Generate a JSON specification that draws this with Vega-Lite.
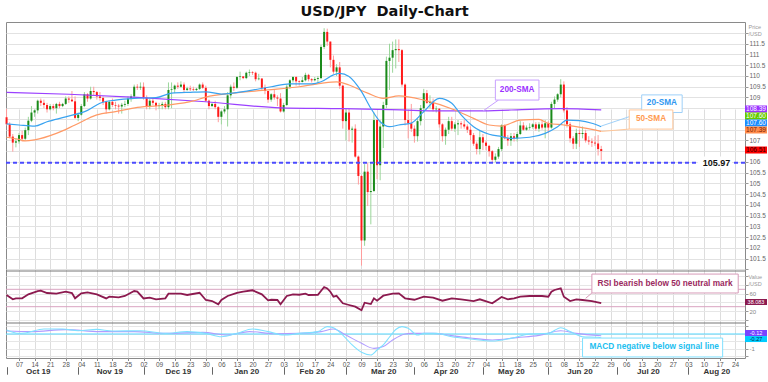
{
"$schema":"https://vega.github.io/schema/vega-lite/v6.json",
"width":739,"height":336,
"autosize":{"type":"none"},
"padding":{"left":6,"top":22,"right":23,"bottom":24},
"background":"white",
"title":{"text":"USD/JPY\u00a0 Daily-Chart","font":"DejaVu Sans","fontSize":14.5,"fontWeight":"bold","color":"#111111","anchor":"middle","dx":9,"offset":3},
"config":{"view":{"stroke":"#8a8a8a","strokeWidth":1},"axis":{"labelFont":"Liberation Sans","titleFont":"Liberation Sans","labelOverlap":false,"labelBound":false,"labelSeparation":0},"text":{"font":"Liberation Sans"}},
"datasets":{
"ohlc":[
{"d":"2019-10-01","o":108.08,"h":108.47,"l":107.7,"c":107.75},
{"d":"2019-10-02","o":107.75,"h":107.85,"l":107.1,"c":107.18},
{"d":"2019-10-03","o":107.18,"h":107.3,"l":106.48,"c":106.9},
{"d":"2019-10-04","o":106.9,"h":107.1,"l":106.68,"c":106.96},
{"d":"2019-10-07","o":106.96,"h":107.35,"l":106.85,"c":107.25},
{"d":"2019-10-08","o":107.25,"h":107.45,"l":106.95,"c":107.08},
{"d":"2019-10-09","o":107.08,"h":107.6,"l":107.0,"c":107.48},
{"d":"2019-10-10","o":107.48,"h":108.1,"l":107.25,"c":107.92},
{"d":"2019-10-11","o":107.92,"h":108.6,"l":107.85,"c":108.3},
{"d":"2019-10-14","o":108.3,"h":108.45,"l":108.1,"c":108.4},
{"d":"2019-10-15","o":108.4,"h":108.9,"l":108.25,"c":108.85},
{"d":"2019-10-16","o":108.85,"h":108.95,"l":108.6,"c":108.75},
{"d":"2019-10-17","o":108.75,"h":108.9,"l":108.5,"c":108.65},
{"d":"2019-10-18","o":108.65,"h":108.75,"l":108.3,"c":108.45},
{"d":"2019-10-21","o":108.45,"h":108.7,"l":108.4,"c":108.6},
{"d":"2019-10-22","o":108.6,"h":108.7,"l":108.4,"c":108.5},
{"d":"2019-10-23","o":108.5,"h":108.75,"l":108.25,"c":108.7},
{"d":"2019-10-24","o":108.7,"h":108.8,"l":108.5,"c":108.6},
{"d":"2019-10-25","o":108.6,"h":108.75,"l":108.55,"c":108.7},
{"d":"2019-10-28","o":108.7,"h":109.05,"l":108.65,"c":108.95},
{"d":"2019-10-29","o":108.95,"h":109.05,"l":108.75,"c":108.9},
{"d":"2019-10-30","o":108.9,"h":109.3,"l":108.8,"c":108.82},
{"d":"2019-10-31","o":108.82,"h":109.05,"l":108.0,"c":108.05},
{"d":"2019-11-01","o":108.05,"h":108.3,"l":107.9,"c":108.2},
{"d":"2019-11-04","o":108.2,"h":108.7,"l":108.15,"c":108.6},
{"d":"2019-11-05","o":108.6,"h":109.25,"l":108.55,"c":109.15},
{"d":"2019-11-06","o":109.15,"h":109.2,"l":108.8,"c":108.95},
{"d":"2019-11-07","o":108.95,"h":109.5,"l":108.9,"c":109.3},
{"d":"2019-11-08","o":109.3,"h":109.5,"l":109.1,"c":109.25},
{"d":"2019-11-11","o":109.25,"h":109.3,"l":108.9,"c":109.05},
{"d":"2019-11-12","o":109.05,"h":109.25,"l":108.85,"c":108.98},
{"d":"2019-11-13","o":108.98,"h":109.05,"l":108.65,"c":108.8},
{"d":"2019-11-14","o":108.8,"h":108.85,"l":108.25,"c":108.45},
{"d":"2019-11-15","o":108.45,"h":108.85,"l":108.4,"c":108.8},
{"d":"2019-11-18","o":108.8,"h":108.95,"l":108.55,"c":108.65},
{"d":"2019-11-19","o":108.65,"h":108.8,"l":108.45,"c":108.62},
{"d":"2019-11-20","o":108.62,"h":108.7,"l":108.25,"c":108.58},
{"d":"2019-11-21","o":108.58,"h":108.75,"l":108.25,"c":108.66},
{"d":"2019-11-22","o":108.66,"h":108.85,"l":108.55,"c":108.7},
{"d":"2019-11-25","o":108.7,"h":109.05,"l":108.6,"c":108.95},
{"d":"2019-11-26","o":108.95,"h":109.15,"l":108.8,"c":109.05},
{"d":"2019-11-27","o":109.05,"h":109.6,"l":108.95,"c":109.5},
{"d":"2019-11-28","o":109.5,"h":109.62,"l":109.35,"c":109.46},
{"d":"2019-11-29","o":109.46,"h":109.7,"l":109.35,"c":109.5},
{"d":"2019-12-02","o":109.5,"h":109.7,"l":108.9,"c":109.0},
{"d":"2019-12-03","o":109.0,"h":109.1,"l":108.45,"c":108.6},
{"d":"2019-12-04","o":108.6,"h":108.95,"l":108.45,"c":108.85},
{"d":"2019-12-05","o":108.85,"h":108.95,"l":108.65,"c":108.75},
{"d":"2019-12-06","o":108.75,"h":108.8,"l":108.4,"c":108.6},
{"d":"2019-12-09","o":108.6,"h":108.75,"l":108.45,"c":108.63},
{"d":"2019-12-10","o":108.63,"h":108.8,"l":108.45,"c":108.7},
{"d":"2019-12-11","o":108.7,"h":108.8,"l":108.45,"c":108.55},
{"d":"2019-12-12","o":108.55,"h":109.7,"l":108.45,"c":109.35},
{"d":"2019-12-13","o":109.35,"h":109.7,"l":108.5,"c":109.38},
{"d":"2019-12-16","o":109.38,"h":109.6,"l":109.2,"c":109.55},
{"d":"2019-12-17","o":109.55,"h":109.7,"l":109.4,"c":109.5},
{"d":"2019-12-18","o":109.5,"h":109.75,"l":109.45,"c":109.6},
{"d":"2019-12-19","o":109.6,"h":109.7,"l":109.25,"c":109.35},
{"d":"2019-12-20","o":109.35,"h":109.5,"l":109.3,"c":109.42},
{"d":"2019-12-23","o":109.42,"h":109.55,"l":109.3,"c":109.38},
{"d":"2019-12-24","o":109.38,"h":109.5,"l":109.3,"c":109.35},
{"d":"2019-12-25","o":109.35,"h":109.45,"l":109.3,"c":109.4},
{"d":"2019-12-26","o":109.4,"h":109.65,"l":109.35,"c":109.6},
{"d":"2019-12-27","o":109.6,"h":109.7,"l":109.4,"c":109.45},
{"d":"2019-12-30","o":109.45,"h":109.55,"l":108.8,"c":108.85},
{"d":"2019-12-31","o":108.85,"h":108.9,"l":108.45,"c":108.6},
{"d":"2020-01-01","o":108.6,"h":108.75,"l":108.55,"c":108.7},
{"d":"2020-01-02","o":108.7,"h":108.85,"l":108.45,"c":108.55},
{"d":"2020-01-03","o":108.55,"h":108.6,"l":107.85,"c":108.1},
{"d":"2020-01-06","o":108.1,"h":108.4,"l":107.75,"c":108.35},
{"d":"2020-01-07","o":108.35,"h":108.6,"l":108.25,"c":108.45},
{"d":"2020-01-08","o":108.45,"h":109.25,"l":107.65,"c":109.1},
{"d":"2020-01-09","o":109.1,"h":109.6,"l":108.95,"c":109.5},
{"d":"2020-01-10","o":109.5,"h":109.7,"l":109.3,"c":109.45},
{"d":"2020-01-13","o":109.45,"h":110.0,"l":109.4,"c":109.95},
{"d":"2020-01-14","o":109.95,"h":110.2,"l":109.8,"c":109.98},
{"d":"2020-01-15","o":109.98,"h":110.0,"l":109.85,"c":109.9},
{"d":"2020-01-16","o":109.9,"h":110.2,"l":109.85,"c":110.15},
{"d":"2020-01-17","o":110.15,"h":110.3,"l":110.0,"c":110.18},
{"d":"2020-01-20","o":110.18,"h":110.22,"l":110.05,"c":110.15},
{"d":"2020-01-21","o":110.15,"h":110.2,"l":109.75,"c":109.85},
{"d":"2020-01-22","o":109.85,"h":110.1,"l":109.8,"c":109.88},
{"d":"2020-01-23","o":109.88,"h":109.9,"l":109.35,"c":109.45},
{"d":"2020-01-24","o":109.45,"h":109.6,"l":109.15,"c":109.3},
{"d":"2020-01-27","o":109.3,"h":109.3,"l":108.75,"c":108.9},
{"d":"2020-01-28","o":108.9,"h":109.2,"l":108.8,"c":109.15},
{"d":"2020-01-29","o":109.15,"h":109.35,"l":108.9,"c":109.0},
{"d":"2020-01-30","o":109.0,"h":109.1,"l":108.6,"c":108.95},
{"d":"2020-01-31","o":108.95,"h":109.2,"l":108.3,"c":108.35},
{"d":"2020-02-03","o":108.35,"h":108.75,"l":108.3,"c":108.65},
{"d":"2020-02-04","o":108.65,"h":109.6,"l":108.6,"c":109.5},
{"d":"2020-02-05","o":109.5,"h":109.85,"l":109.4,"c":109.8},
{"d":"2020-02-06","o":109.8,"h":110.0,"l":109.7,"c":109.95},
{"d":"2020-02-07","o":109.95,"h":110.0,"l":109.55,"c":109.75},
{"d":"2020-02-10","o":109.75,"h":109.8,"l":109.55,"c":109.72},
{"d":"2020-02-11","o":109.72,"h":109.95,"l":109.7,"c":109.8},
{"d":"2020-02-12","o":109.8,"h":110.15,"l":109.75,"c":110.05},
{"d":"2020-02-13","o":110.05,"h":110.1,"l":109.75,"c":109.85},
{"d":"2020-02-14","o":109.85,"h":109.9,"l":109.7,"c":109.8},
{"d":"2020-02-17","o":109.8,"h":109.95,"l":109.75,"c":109.86},
{"d":"2020-02-18","o":109.86,"h":110.0,"l":109.65,"c":109.9},
{"d":"2020-02-19","o":109.9,"h":111.45,"l":109.85,"c":111.35},
{"d":"2020-02-20","o":111.35,"h":112.22,"l":111.25,"c":112.05},
{"d":"2020-02-21","o":112.05,"h":112.2,"l":111.4,"c":111.6},
{"d":"2020-02-24","o":111.6,"h":111.6,"l":110.4,"c":110.75},
{"d":"2020-02-25","o":110.75,"h":110.95,"l":110.1,"c":110.2},
{"d":"2020-02-26","o":110.2,"h":110.55,"l":110.0,"c":110.4},
{"d":"2020-02-27","o":110.4,"h":110.65,"l":109.4,"c":109.55},
{"d":"2020-02-28","o":109.55,"h":109.6,"l":107.55,"c":107.9},
{"d":"2020-03-02","o":107.9,"h":108.5,"l":107.0,"c":108.3},
{"d":"2020-03-03","o":108.3,"h":108.5,"l":106.95,"c":107.5},
{"d":"2020-03-04","o":107.5,"h":107.65,"l":106.9,"c":107.55},
{"d":"2020-03-05","o":107.55,"h":107.75,"l":106.2,"c":106.25},
{"d":"2020-03-06","o":106.25,"h":106.3,"l":104.95,"c":105.35},
{"d":"2020-03-09","o":105.35,"h":105.4,"l":101.18,"c":102.35},
{"d":"2020-03-10","o":102.35,"h":105.9,"l":102.1,"c":105.55},
{"d":"2020-03-11","o":105.55,"h":105.95,"l":103.95,"c":104.6},
{"d":"2020-03-12","o":104.6,"h":105.95,"l":103.1,"c":104.65},
{"d":"2020-03-13","o":104.65,"h":108.3,"l":104.6,"c":107.95},
{"d":"2020-03-16","o":107.95,"h":108.0,"l":105.2,"c":105.85},
{"d":"2020-03-17","o":105.85,"h":107.95,"l":105.15,"c":107.65},
{"d":"2020-03-18","o":107.65,"h":108.8,"l":106.65,"c":108.65},
{"d":"2020-03-19","o":108.65,"h":110.9,"l":108.5,"c":110.7},
{"d":"2020-03-20","o":110.7,"h":111.5,"l":109.35,"c":110.85},
{"d":"2020-03-23","o":110.85,"h":111.6,"l":110.15,"c":111.2},
{"d":"2020-03-24","o":111.2,"h":111.7,"l":110.35,"c":111.25},
{"d":"2020-03-25","o":111.25,"h":111.7,"l":110.65,"c":111.2},
{"d":"2020-03-26","o":111.2,"h":111.25,"l":109.5,"c":109.6},
{"d":"2020-03-27","o":109.6,"h":109.65,"l":107.7,"c":107.95},
{"d":"2020-03-30","o":107.95,"h":108.4,"l":107.1,"c":107.8},
{"d":"2020-03-31","o":107.8,"h":108.7,"l":107.4,"c":107.55},
{"d":"2020-04-01","o":107.55,"h":107.7,"l":106.9,"c":107.2},
{"d":"2020-04-02","o":107.2,"h":108.0,"l":106.95,"c":107.9},
{"d":"2020-04-03","o":107.9,"h":108.65,"l":107.7,"c":108.5},
{"d":"2020-04-06","o":108.5,"h":109.4,"l":108.3,"c":109.2},
{"d":"2020-04-07","o":109.2,"h":109.35,"l":108.7,"c":108.75},
{"d":"2020-04-08","o":108.75,"h":109.1,"l":108.5,"c":108.8},
{"d":"2020-04-09","o":108.8,"h":108.95,"l":108.35,"c":108.45},
{"d":"2020-04-10","o":108.45,"h":108.6,"l":108.3,"c":108.48},
{"d":"2020-04-13","o":108.48,"h":108.5,"l":107.6,"c":107.75},
{"d":"2020-04-14","o":107.75,"h":107.8,"l":106.95,"c":107.2},
{"d":"2020-04-15","o":107.2,"h":107.6,"l":106.8,"c":107.5},
{"d":"2020-04-16","o":107.5,"h":108.1,"l":107.3,"c":107.9},
{"d":"2020-04-17","o":107.9,"h":108.1,"l":107.45,"c":107.55},
{"d":"2020-04-20","o":107.55,"h":107.85,"l":107.4,"c":107.75},
{"d":"2020-04-21","o":107.75,"h":107.95,"l":107.25,"c":107.8},
{"d":"2020-04-22","o":107.8,"h":107.9,"l":107.55,"c":107.75},
{"d":"2020-04-23","o":107.75,"h":107.95,"l":107.55,"c":107.65},
{"d":"2020-04-24","o":107.65,"h":107.75,"l":107.35,"c":107.5},
{"d":"2020-04-27","o":107.5,"h":107.65,"l":107.0,"c":107.25},
{"d":"2020-04-28","o":107.25,"h":107.35,"l":106.75,"c":106.85},
{"d":"2020-04-29","o":106.85,"h":106.95,"l":106.35,"c":106.6},
{"d":"2020-04-30","o":106.6,"h":107.45,"l":106.35,"c":107.15},
{"d":"2020-05-01","o":107.15,"h":107.3,"l":106.55,"c":106.9},
{"d":"2020-05-04","o":106.9,"h":107.0,"l":106.55,"c":106.75},
{"d":"2020-05-05","o":106.75,"h":106.8,"l":106.25,"c":106.5},
{"d":"2020-05-06","o":106.5,"h":106.55,"l":105.98,"c":106.1},
{"d":"2020-05-07","o":106.1,"h":106.4,"l":105.99,"c":106.25},
{"d":"2020-05-08","o":106.25,"h":106.7,"l":106.15,"c":106.6},
{"d":"2020-05-11","o":106.6,"h":107.75,"l":106.5,"c":107.7},
{"d":"2020-05-12","o":107.7,"h":107.75,"l":107.05,"c":107.1},
{"d":"2020-05-13","o":107.1,"h":107.25,"l":106.75,"c":107.0},
{"d":"2020-05-14","o":107.0,"h":107.35,"l":106.75,"c":107.2},
{"d":"2020-05-15","o":107.2,"h":107.35,"l":106.95,"c":107.1},
{"d":"2020-05-18","o":107.1,"h":107.4,"l":106.95,"c":107.3},
{"d":"2020-05-19","o":107.3,"h":107.9,"l":107.25,"c":107.7},
{"d":"2020-05-20","o":107.7,"h":107.85,"l":107.45,"c":107.5},
{"d":"2020-05-21","o":107.5,"h":107.7,"l":107.45,"c":107.6},
{"d":"2020-05-22","o":107.6,"h":107.8,"l":107.5,"c":107.63},
{"d":"2020-05-25","o":107.63,"h":107.8,"l":107.55,"c":107.75},
{"d":"2020-05-26","o":107.75,"h":107.85,"l":107.45,"c":107.55},
{"d":"2020-05-27","o":107.55,"h":107.85,"l":107.4,"c":107.75},
{"d":"2020-05-28","o":107.75,"h":107.95,"l":107.5,"c":107.6},
{"d":"2020-05-29","o":107.6,"h":107.95,"l":107.1,"c":107.8},
{"d":"2020-06-01","o":107.8,"h":107.9,"l":107.35,"c":107.6},
{"d":"2020-06-02","o":107.6,"h":108.8,"l":107.55,"c":108.7},
{"d":"2020-06-03","o":108.7,"h":109.05,"l":108.5,"c":108.9},
{"d":"2020-06-04","o":108.9,"h":109.2,"l":108.8,"c":109.15},
{"d":"2020-06-05","o":109.15,"h":109.85,"l":109.0,"c":109.6},
{"d":"2020-06-08","o":109.6,"h":109.75,"l":108.3,"c":108.4},
{"d":"2020-06-09","o":108.4,"h":108.55,"l":107.6,"c":107.75},
{"d":"2020-06-10","o":107.75,"h":107.85,"l":106.9,"c":107.1},
{"d":"2020-06-11","o":107.1,"h":107.2,"l":106.6,"c":106.85},
{"d":"2020-06-12","o":106.85,"h":107.55,"l":106.6,"c":107.35},
{"d":"2020-06-15","o":107.35,"h":107.5,"l":106.7,"c":107.3},
{"d":"2020-06-16","o":107.3,"h":107.65,"l":107.1,"c":107.35},
{"d":"2020-06-17","o":107.35,"h":107.5,"l":106.9,"c":107.0},
{"d":"2020-06-18","o":107.0,"h":107.2,"l":106.8,"c":106.95},
{"d":"2020-06-19","o":106.95,"h":107.1,"l":106.7,"c":106.9},
{"d":"2020-06-22","o":106.9,"h":107.2,"l":106.75,"c":106.86},
{"d":"2020-06-23","o":106.86,"h":107.25,"l":106.3,"c":106.6},
{"d":"2020-06-24","o":106.6,"h":106.75,"l":106.08,"c":106.51}
],
"s20":[{"d":"2019-10-01","v":107.77},{"d":"2019-10-07","v":107.72},{"d":"2019-10-14","v":107.67},{"d":"2019-10-18","v":107.87},{"d":"2019-10-28","v":108.1},{"d":"2019-11-06","v":108.4},{"d":"2019-11-12","v":108.73},{"d":"2019-11-19","v":108.88},{"d":"2019-11-27","v":108.96},{"d":"2019-12-06","v":108.99},{"d":"2019-12-13","v":109.2},{"d":"2019-12-23","v":109.24},{"d":"2019-12-30","v":109.26},{"d":"2020-01-06","v":109.16},{"d":"2020-01-17","v":109.32},{"d":"2020-01-28","v":109.5},{"d":"2020-02-05","v":109.63},{"d":"2020-02-14","v":109.63},{"d":"2020-02-19","v":109.73},{"d":"2020-02-25","v":110.05},{"d":"2020-02-27","v":110.12},{"d":"2020-03-03","v":109.97},{"d":"2020-03-09","v":109.27},{"d":"2020-03-12","v":108.5},{"d":"2020-03-17","v":107.87},{"d":"2020-03-20","v":107.64},{"d":"2020-03-25","v":107.72},{"d":"2020-03-31","v":107.81},{"d":"2020-04-06","v":108.34},{"d":"2020-04-13","v":108.96},{"d":"2020-04-17","v":108.73},{"d":"2020-04-22","v":108.19},{"d":"2020-04-28","v":107.64},{"d":"2020-05-05","v":107.29},{"d":"2020-05-11","v":107.18},{"d":"2020-05-14","v":107.1},{"d":"2020-05-22","v":107.15},{"d":"2020-05-29","v":107.33},{"d":"2020-06-04","v":107.64},{"d":"2020-06-09","v":107.95},{"d":"2020-06-15","v":107.92},{"d":"2020-06-19","v":107.8},{"d":"2020-06-24","v":107.64}],
"s50":[{"d":"2019-10-01","v":107.15},{"d":"2019-10-07","v":107.05},{"d":"2019-10-09","v":106.98},{"d":"2019-10-14","v":107.03},{"d":"2019-10-23","v":107.33},{"d":"2019-10-31","v":107.72},{"d":"2019-11-11","v":108.19},{"d":"2019-11-19","v":108.34},{"d":"2019-11-28","v":108.54},{"d":"2019-12-12","v":108.65},{"d":"2019-12-24","v":108.84},{"d":"2019-12-30","v":109.02},{"d":"2020-01-10","v":109.2},{"d":"2020-01-27","v":109.35},{"d":"2020-02-10","v":109.5},{"d":"2020-02-19","v":109.66},{"d":"2020-02-26","v":109.73},{"d":"2020-03-03","v":109.58},{"d":"2020-03-11","v":109.2},{"d":"2020-03-18","v":108.96},{"d":"2020-03-25","v":109.07},{"d":"2020-04-06","v":108.88},{"d":"2020-04-20","v":108.42},{"d":"2020-04-28","v":108.03},{"d":"2020-05-05","v":107.72},{"d":"2020-05-11","v":107.67},{"d":"2020-05-19","v":107.95},{"d":"2020-05-27","v":107.98},{"d":"2020-06-01","v":107.8},{"d":"2020-06-08","v":107.72},{"d":"2020-06-19","v":107.52},{"d":"2020-06-24","v":107.42}],
"s200":[{"d":"2019-10-01","v":109.24},{"d":"2019-10-29","v":109.15},{"d":"2019-11-28","v":109.0},{"d":"2019-12-30","v":108.8},{"d":"2020-01-31","v":108.52},{"d":"2020-02-28","v":108.48},{"d":"2020-03-26","v":108.42},{"d":"2020-04-09","v":108.38},{"d":"2020-05-01","v":108.38},{"d":"2020-05-22","v":108.45},{"d":"2020-06-05","v":108.48},{"d":"2020-06-24","v":108.42}],
"rsi":[{"d":"2019-10-01","v":56.9},{"d":"2019-10-03","v":47},{"d":"2019-10-04","v":49.3},{"d":"2019-10-08","v":49.3},{"d":"2019-10-10","v":58.5},{"d":"2019-10-15","v":66},{"d":"2019-10-16","v":66.8},{"d":"2019-10-18","v":61.5},{"d":"2019-10-23","v":60},{"d":"2019-10-28","v":64.5},{"d":"2019-10-30","v":61.5},{"d":"2019-10-31","v":49.3},{"d":"2019-11-04","v":60.8},{"d":"2019-11-06","v":63},{"d":"2019-11-11","v":58.5},{"d":"2019-11-14","v":49},{"d":"2019-11-15","v":53},{"d":"2019-11-20","v":51.6},{"d":"2019-11-22","v":54.6},{"d":"2019-11-27","v":66},{"d":"2019-11-28","v":64.5},{"d":"2019-12-02","v":49},{"d":"2019-12-04","v":51},{"d":"2019-12-06","v":47},{"d":"2019-12-11","v":49.3},{"d":"2019-12-12","v":60},{"d":"2019-12-18","v":60},{"d":"2019-12-20","v":56.9},{"d":"2019-12-26","v":62},{"d":"2019-12-30","v":45.4},{"d":"2020-01-01","v":43},{"d":"2020-01-03","v":35.5},{"d":"2020-01-06","v":45.4},{"d":"2020-01-08","v":54.6},{"d":"2020-01-13","v":62},{"d":"2020-01-15","v":64.5},{"d":"2020-01-20","v":67.7},{"d":"2020-01-23","v":58.5},{"d":"2020-01-27","v":44.7},{"d":"2020-01-28","v":46},{"d":"2020-01-30","v":45.4},{"d":"2020-01-31","v":35.5},{"d":"2020-02-04","v":54.6},{"d":"2020-02-06","v":58.5},{"d":"2020-02-10","v":57.5},{"d":"2020-02-12","v":60},{"d":"2020-02-13","v":56.9},{"d":"2020-02-18","v":57.5},{"d":"2020-02-20","v":75.3},{"d":"2020-02-21","v":72},{"d":"2020-02-24","v":64.5},{"d":"2020-02-25","v":53},{"d":"2020-02-26","v":55},{"d":"2020-02-28","v":37.8},{"d":"2020-03-03","v":33.9},{"d":"2020-03-05","v":30},{"d":"2020-03-09","v":21.7},{"d":"2020-03-10","v":39.2},{"d":"2020-03-12","v":36},{"d":"2020-03-13","v":49.3},{"d":"2020-03-16","v":44},{"d":"2020-03-18","v":55.3},{"d":"2020-03-23","v":60},{"d":"2020-03-25","v":60.8},{"d":"2020-03-27","v":49.3},{"d":"2020-04-01","v":46},{"d":"2020-04-06","v":53},{"d":"2020-04-09","v":50.7},{"d":"2020-04-14","v":43.8},{"d":"2020-04-17","v":49.3},{"d":"2020-04-22","v":47},{"d":"2020-04-28","v":43},{"d":"2020-04-30","v":47},{"d":"2020-05-06","v":37.8},{"d":"2020-05-11","v":52.3},{"d":"2020-05-13","v":47},{"d":"2020-05-15","v":49},{"d":"2020-05-19","v":53},{"d":"2020-05-22","v":54.6},{"d":"2020-05-28","v":54.6},{"d":"2020-06-01","v":53},{"d":"2020-06-02","v":64.5},{"d":"2020-06-03","v":68.4},{"d":"2020-06-05","v":72.3},{"d":"2020-06-08","v":53},{"d":"2020-06-10","v":43},{"d":"2020-06-12","v":47},{"d":"2020-06-16","v":45.4},{"d":"2020-06-19","v":43},{"d":"2020-06-24","v":38.08}],
"macd":[{"d":"2019-10-01","v":0.27},{"d":"2019-10-07","v":0.04},{"d":"2019-10-09","v":0.07},{"d":"2019-10-17","v":0.33},{"d":"2019-10-25","v":0.33},{"d":"2019-11-01","v":0.22},{"d":"2019-11-11","v":0.31},{"d":"2019-11-18","v":0.2},{"d":"2019-11-29","v":0.22},{"d":"2019-12-11","v":0.04},{"d":"2019-12-20","v":0.16},{"d":"2019-12-30","v":0.04},{"d":"2020-01-06","v":-0.18},{"d":"2020-01-13","v":0.04},{"d":"2020-01-20","v":0.33},{"d":"2020-01-27","v":0.16},{"d":"2020-02-03","v":-0.07},{"d":"2020-02-10","v":0.04},{"d":"2020-02-18","v":0.16},{"d":"2020-02-21","v":0.49},{"d":"2020-02-25","v":0.42},{"d":"2020-02-28","v":-0.07},{"d":"2020-03-04","v":-0.73},{"d":"2020-03-09","v":-1.22},{"d":"2020-03-12","v":-1.4},{"d":"2020-03-16","v":-1.07},{"d":"2020-03-18","v":-0.73},{"d":"2020-03-20","v":-0.2},{"d":"2020-03-24","v":0.3},{"d":"2020-03-26","v":0.49},{"d":"2020-03-30","v":0.38},{"d":"2020-04-02","v":-0.07},{"d":"2020-04-06","v":0.04},{"d":"2020-04-10","v":0.04},{"d":"2020-04-17","v":-0.18},{"d":"2020-04-27","v":-0.33},{"d":"2020-05-06","v":-0.47},{"d":"2020-05-14","v":-0.29},{"d":"2020-05-22","v":0.0},{"d":"2020-06-01","v":0.04},{"d":"2020-06-05","v":0.42},{"d":"2020-06-10","v":0.16},{"d":"2020-06-16","v":-0.18},{"d":"2020-06-23","v":-0.22},{"d":"2020-06-24","v":-0.27}],
"sig":[{"d":"2019-10-01","v":0.2},{"d":"2019-10-11","v":0.16},{"d":"2019-10-28","v":0.29},{"d":"2019-11-12","v":0.16},{"d":"2019-11-27","v":0.16},{"d":"2019-12-11","v":0.04},{"d":"2019-12-27","v":0.11},{"d":"2020-01-08","v":-0.07},{"d":"2020-01-17","v":0.16},{"d":"2020-01-29","v":0.02},{"d":"2020-02-10","v":0.04},{"d":"2020-02-19","v":0.16},{"d":"2020-02-25","v":0.33},{"d":"2020-03-02","v":-0.07},{"d":"2020-03-09","v":-0.62},{"d":"2020-03-13","v":-0.96},{"d":"2020-03-18","v":-0.84},{"d":"2020-03-23","v":-0.4},{"d":"2020-03-27","v":0.0},{"d":"2020-03-31","v":0.04},{"d":"2020-04-09","v":0.04},{"d":"2020-04-17","v":-0.11},{"d":"2020-04-27","v":-0.27},{"d":"2020-05-06","v":-0.4},{"d":"2020-05-18","v":-0.24},{"d":"2020-05-27","v":-0.09},{"d":"2020-06-05","v":0.22},{"d":"2020-06-12","v":0.04},{"d":"2020-06-24","v":-0.12}]
},
"resolve":{"scale":{"y":"independent"},"axis":{"x":"independent","y":"independent"}},
"layer":[
{"data":{"name":"ohlc"},"layer":[
 {"mark":{"type":"rule","strokeWidth":1},
  "encoding":{
   "x":{"field":"d","type":"ordinal","scale":{"type":"point","padding":0.18,"domain":["2019-10-01","2019-10-02","2019-10-03","2019-10-04","2019-10-07","2019-10-08","2019-10-09","2019-10-10","2019-10-11","2019-10-14","2019-10-15","2019-10-16","2019-10-17","2019-10-18","2019-10-21","2019-10-22","2019-10-23","2019-10-24","2019-10-25","2019-10-28","2019-10-29","2019-10-30","2019-10-31","2019-11-01","2019-11-04","2019-11-05","2019-11-06","2019-11-07","2019-11-08","2019-11-11","2019-11-12","2019-11-13","2019-11-14","2019-11-15","2019-11-18","2019-11-19","2019-11-20","2019-11-21","2019-11-22","2019-11-25","2019-11-26","2019-11-27","2019-11-28","2019-11-29","2019-12-02","2019-12-03","2019-12-04","2019-12-05","2019-12-06","2019-12-09","2019-12-10","2019-12-11","2019-12-12","2019-12-13","2019-12-16","2019-12-17","2019-12-18","2019-12-19","2019-12-20","2019-12-23","2019-12-24","2019-12-25","2019-12-26","2019-12-27","2019-12-30","2019-12-31","2020-01-01","2020-01-02","2020-01-03","2020-01-06","2020-01-07","2020-01-08","2020-01-09","2020-01-10","2020-01-13","2020-01-14","2020-01-15","2020-01-16","2020-01-17","2020-01-20","2020-01-21","2020-01-22","2020-01-23","2020-01-24","2020-01-27","2020-01-28","2020-01-29","2020-01-30","2020-01-31","2020-02-03","2020-02-04","2020-02-05","2020-02-06","2020-02-07","2020-02-10","2020-02-11","2020-02-12","2020-02-13","2020-02-14","2020-02-17","2020-02-18","2020-02-19","2020-02-20","2020-02-21","2020-02-24","2020-02-25","2020-02-26","2020-02-27","2020-02-28","2020-03-02","2020-03-03","2020-03-04","2020-03-05","2020-03-06","2020-03-09","2020-03-10","2020-03-11","2020-03-12","2020-03-13","2020-03-16","2020-03-17","2020-03-18","2020-03-19","2020-03-20","2020-03-23","2020-03-24","2020-03-25","2020-03-26","2020-03-27","2020-03-30","2020-03-31","2020-04-01","2020-04-02","2020-04-03","2020-04-06","2020-04-07","2020-04-08","2020-04-09","2020-04-10","2020-04-13","2020-04-14","2020-04-15","2020-04-16","2020-04-17","2020-04-20","2020-04-21","2020-04-22","2020-04-23","2020-04-24","2020-04-27","2020-04-28","2020-04-29","2020-04-30","2020-05-01","2020-05-04","2020-05-05","2020-05-06","2020-05-07","2020-05-08","2020-05-11","2020-05-12","2020-05-13","2020-05-14","2020-05-15","2020-05-18","2020-05-19","2020-05-20","2020-05-21","2020-05-22","2020-05-25","2020-05-26","2020-05-27","2020-05-28","2020-05-29","2020-06-01","2020-06-02","2020-06-03","2020-06-04","2020-06-05","2020-06-08","2020-06-09","2020-06-10","2020-06-11","2020-06-12","2020-06-15","2020-06-16","2020-06-17","2020-06-18","2020-06-19","2020-06-22","2020-06-23","2020-06-24","2020-06-25","2020-06-26","2020-06-29","2020-06-30","2020-07-01","2020-07-02","2020-07-03","2020-07-06","2020-07-07","2020-07-08","2020-07-09","2020-07-10","2020-07-13","2020-07-14","2020-07-15","2020-07-16","2020-07-17","2020-07-20","2020-07-21","2020-07-22","2020-07-23","2020-07-24","2020-07-27","2020-07-28","2020-07-29","2020-07-30","2020-07-31","2020-08-03","2020-08-04","2020-08-05","2020-08-06","2020-08-07","2020-08-10","2020-08-11","2020-08-12","2020-08-13","2020-08-14","2020-08-17","2020-08-18","2020-08-19","2020-08-20","2020-08-21","2020-08-24","2020-08-25","2020-08-26","2020-08-27"]},
    "axis":{"orient":"bottom","title":null,"values":["2019-10-07","2019-10-14","2019-10-21","2019-10-28","2019-11-04","2019-11-11","2019-11-18","2019-11-25","2019-12-02","2019-12-09","2019-12-16","2019-12-23","2019-12-30","2020-01-06","2020-01-13","2020-01-20","2020-01-27","2020-02-03","2020-02-10","2020-02-17","2020-02-24","2020-03-02","2020-03-09","2020-03-16","2020-03-23","2020-03-30","2020-04-06","2020-04-13","2020-04-20","2020-04-27","2020-05-04","2020-05-11","2020-05-18","2020-05-25","2020-06-01","2020-06-08","2020-06-15","2020-06-22","2020-06-29","2020-07-06","2020-07-13","2020-07-20","2020-07-27","2020-08-03","2020-08-10","2020-08-17","2020-08-24"],"labelExpr":"substring(datum.value, 8, 10)","grid":true,"gridColor":"#dddddd","domain":false,"tickSize":2.5,"tickColor":"#888888","labelFontSize":6.5,"labelColor":"#555555","labelPadding":1,"labelAngle":0,"labelOverlap":false}},
   "y":{"field":"l","type":"quantitative","scale":{"domain":[100.93,112.51],"range":[249,0],"nice":false,"zero":false},
    "axis":{"orient":"right","title":["Price","/USD"],"titleAngle":0,"titleAlign":"left","titleBaseline":"top","titleX":3,"titleY":2,"titleFontSize":5.5,"titleFontWeight":"normal","titleColor":"#999999","tickCount":100,"values":[101,101.5,102,102.5,103,103.5,104,104.5,105,105.5,106,106.5,107,107.5,108,108.5,109,109.5,110,110.5,111,111.5,112],"labelExpr":"indexof([101,106.5,107.5,108,108.5,112], datum.value) >= 0 ? '' : '' + datum.value","labelOverlap":false,"grid":true,"gridColor":"#e2e2e2","domain":false,"tickSize":3,"tickColor":"#999999","labelFontSize":6.5,"labelColor":"#666666","labelPadding":1}},
   "y2":{"field":"h"},
   "color":{"condition":{"test":"datum.c >= datum.o","value":"#9ad69a"},"value":"#ff9c9c"}}},
 {"mark":{"type":"bar","size":2},"encoding":{"x":{"field":"d","type":"ordinal"},"y":{"field":"o","type":"quantitative"},"y2":{"field":"c"},"color":{"condition":{"test":"datum.c >= datum.o","value":"#1a8a1a"},"value":"#ff1a1a"}}},
 {"data":{"name":"s200"},"mark":{"type":"line","color":"#9b40ff","strokeWidth":1.2,"interpolate":"monotone"},"encoding":{"x":{"field":"d","type":"ordinal"},"y":{"field":"v","type":"quantitative"}}},
 {"data":{"name":"s50"},"mark":{"type":"line","color":"#ff9a66","strokeWidth":1.2,"interpolate":"monotone"},"encoding":{"x":{"field":"d","type":"ordinal"},"y":{"field":"v","type":"quantitative"}}},
 {"data":{"name":"s20"},"mark":{"type":"line","color":"#39a3f0","strokeWidth":1.2,"interpolate":"monotone"},"encoding":{"x":{"field":"d","type":"ordinal"},"y":{"field":"v","type":"quantitative"}}},
 {"data":{"values":[{}]},"mark":{"type":"rule","color":"#4b4bff","strokeWidth":2,"strokeDash":[4,3]},"encoding":{"y":{"datum":105.97}}},
 {"data":{"values":[{}]},"mark":{"type":"rect","fill":"#ffffff"},"encoding":{"x":{"datum":"2020-08-06","type":"ordinal"},"x2":{"datum":"2020-08-21"},"y":{"datum":106.25},"y2":{"datum":105.7}}},
 {"data":{"values":[{}]},"mark":{"type":"text","text":"105.97","fontWeight":"bold","fontSize":9,"align":"center","baseline":"middle","color":"#111111"},"encoding":{"x":{"datum":"2020-08-14","type":"ordinal"},"y":{"datum":105.97}}},
 {"data":{"values":[{}]},"mark":{"type":"rule","color":"#c8a0ff","strokeWidth":1},"encoding":{"x":{"datum":"2020-05-01","type":"ordinal"},"x2":{"datum":"2020-05-08"},"y":{"datum":108.37},"y2":{"datum":108.88}}},
 {"data":{"values":[{}]},"mark":{"type":"rect","fill":"#ffffff","stroke":"#c8a0ff","strokeWidth":1},"encoding":{"x":{"datum":"2020-05-07","type":"ordinal"},"x2":{"datum":"2020-05-27"},"y":{"datum":109.81},"y2":{"datum":108.88}}},
 {"data":{"values":[{}]},"mark":{"type":"text","text":"200-SMA","color":"#9b30ff","fontWeight":"bold","fontSize":8.2,"align":"center","baseline":"middle"},"encoding":{"x":{"datum":"2020-05-18","type":"ordinal"},"y":{"datum":109.35}}},
 {"data":{"values":[{}]},"mark":{"type":"rule","color":"#9fd0f8","strokeWidth":1},"encoding":{"x":{"datum":"2020-06-24","type":"ordinal"},"x2":{"datum":"2020-07-13"},"y":{"datum":107.67},"y2":{"datum":108.3}}},
 {"data":{"values":[{}]},"mark":{"type":"rect","fill":"#ffffff","stroke":"#9fd0f8","strokeWidth":1},"encoding":{"x":{"datum":"2020-07-13","type":"ordinal"},"x2":{"datum":"2020-07-30"},"y":{"datum":109.12},"y2":{"datum":108.3}}},
 {"data":{"values":[{}]},"mark":{"type":"text","text":"20-SMA","color":"#2f96f0","fontWeight":"bold","fontSize":8.2,"align":"center","baseline":"middle","dx":1.5},"encoding":{"x":{"datum":"2020-07-21","type":"ordinal"},"y":{"datum":108.72}}},
 {"data":{"values":[{}]},"mark":{"type":"rule","color":"#ffc79a","strokeWidth":1},"encoding":{"x":{"datum":"2020-06-24","type":"ordinal"},"x2":{"datum":"2020-07-07"},"y":{"datum":107.42},"y2":{"datum":107.53}}},
 {"data":{"values":[{}]},"mark":{"type":"rect","fill":"#ffffff","stroke":"#ffc79a","strokeWidth":1},"encoding":{"x":{"datum":"2020-07-07","type":"ordinal"},"x2":{"datum":"2020-07-27"},"y":{"datum":108.42},"y2":{"datum":107.53}}},
 {"data":{"values":[{}]},"mark":{"type":"text","text":"50-SMA","color":"#ff9a50","fontWeight":"bold","fontSize":8.2,"align":"center","baseline":"middle"},"encoding":{"x":{"datum":"2020-07-16","type":"ordinal"},"y":{"datum":107.98}}},
 {"data":{"values":[{}]},"mark":{"type":"rect","fill":"#9a33ff","x2Offset":22,"yOffset":-5.1,"y2Offset":1.9},"encoding":{"x":{"value":"width"},"x2":{"value":"width"},"y":{"datum":108.39},"y2":{"datum":108.39}}},
 {"data":{"values":[{}]},"mark":{"type":"text","text":"108.39","color":"#ffffff","fontSize":6.5,"align":"center","baseline":"middle","dx":11,"dy":-1.6},"encoding":{"x":{"value":"width"},"y":{"datum":108.39}}},
 {"data":{"values":[{}]},"mark":{"type":"rect","fill":"#66cc00","x2Offset":22,"yOffset":-15.1,"y2Offset":-8.1},"encoding":{"x":{"value":"width"},"x2":{"value":"width"},"y":{"datum":107.6},"y2":{"datum":107.6}}},
 {"data":{"values":[{}]},"mark":{"type":"text","text":"107.60","color":"#ffffff","fontSize":6.5,"align":"center","baseline":"middle","dx":11,"dy":-11.6},"encoding":{"x":{"value":"width"},"y":{"datum":107.6}}},
 {"data":{"values":[{}]},"mark":{"type":"rect","fill":"#1a8cff","x2Offset":22,"yOffset":-8.1,"y2Offset":-1.1},"encoding":{"x":{"value":"width"},"x2":{"value":"width"},"y":{"datum":107.6},"y2":{"datum":107.6}}},
 {"data":{"values":[{}]},"mark":{"type":"text","text":"107.60","color":"#ffffff","fontSize":6.5,"align":"center","baseline":"middle","dx":11,"dy":-4.6},"encoding":{"x":{"value":"width"},"y":{"datum":107.6}}},
 {"data":{"values":[{}]},"mark":{"type":"rect","fill":"#ff8c4c","x2Offset":22,"yOffset":-5.6,"y2Offset":1.4},"encoding":{"x":{"value":"width"},"x2":{"value":"width"},"y":{"datum":107.39},"y2":{"datum":107.39}}},
 {"data":{"values":[{}]},"mark":{"type":"text","text":"107.39","color":"#7a1a00","fontSize":6.5,"align":"center","baseline":"middle","dx":11,"dy":-2.1},"encoding":{"x":{"value":"width"},"y":{"datum":107.39}}},
 {"data":{"values":[{}]},"mark":{"type":"rect","fill":"#ff0000","x2Offset":22,"yOffset":-4.5,"y2Offset":2.5},"encoding":{"x":{"value":"width"},"x2":{"value":"width"},"y":{"datum":106.51},"y2":{"datum":106.51}}},
 {"data":{"values":[{}]},"mark":{"type":"text","text":"106.51","color":"#330000","fontSize":6.5,"align":"center","baseline":"middle","dx":11,"dy":-1},"encoding":{"x":{"value":"width"},"y":{"datum":106.51}}}
]},
{"data":{"name":"rsi"},"layer":[
 {"data":{"values":[{}]},"mark":{"type":"rule","color":"#d9a3c0","strokeWidth":1},"encoding":{"y":{"datum":70}}},
 {"data":{"values":[{}]},"mark":{"type":"rule","color":"#d9a3c0","strokeWidth":1},"encoding":{"y":{"datum":30}}},
 {"data":{"values":[{}]},"mark":{"type":"rule","color":"#777777","strokeWidth":1},"encoding":{"y":{"datum":112.07}}},
 {"mark":{"type":"line","color":"#8c1a4f","strokeWidth":1.8},"encoding":{"x":{"field":"d","type":"ordinal","axis":null},"y":{"field":"v","type":"quantitative","scale":{"domain":[-7.47,112.07],"range":[301,249],"nice":false,"zero":false},"axis":{"orient":"right","title":["Value","/USD"],"titleAngle":0,"titleAlign":"left","titleBaseline":"top","titleX":3,"titleY":252,"titleFontSize":5.5,"titleFontWeight":"normal","titleColor":"#999999","tickCount":100,"values":[100,80,60,40,20,0],"labelExpr":"datum.value == 60 || datum.value == 20 ? '' + datum.value : ''","labelOverlap":false,"grid":true,"gridColor":"#e6e6e6","domain":false,"tickSize":3,"tickColor":"#999999","labelFontSize":6,"labelColor":"#888888","labelPadding":1}}}},
 {"data":{"values":[{}]},"mark":{"type":"rule","color":"#d79ab8","strokeWidth":1},"encoding":{"x":{"datum":"2020-06-17","type":"ordinal","axis":null},"x2":{"datum":"2020-06-19"},"y":{"datum":49.3},"y2":{"datum":61.5}}},
 {"data":{"values":[{}]},"mark":{"type":"rect","fill":"#ffffff","stroke":"#d79ab8","strokeWidth":1},"encoding":{"x":{"datum":"2020-06-19","type":"ordinal","axis":null},"x2":{"datum":"2020-08-25"},"y":{"datum":105},"y2":{"datum":61.5}}},
 {"data":{"values":[{}]},"mark":{"type":"text","text":"RSI bearish below 50 neutral mark","color":"#9b2a5e","fontWeight":"bold","fontSize":8.3,"align":"center","baseline":"middle","dx":1.5},"encoding":{"x":{"datum":"2020-07-22","type":"ordinal","axis":null},"y":{"datum":83.3}}},
 {"data":{"values":[{}]},"mark":{"type":"rect","fill":"#8c1a4f","x2Offset":22,"yOffset":-4.2,"y2Offset":1.8},"encoding":{"x":{"value":"width"},"x2":{"value":"width"},"y":{"datum":38.08},"y2":{"datum":38.08}}},
 {"data":{"values":[{}]},"mark":{"type":"text","text":"38.083","color":"#ffffff","fontSize":5.5,"align":"center","baseline":"middle","dx":11,"dy":-1.2},"encoding":{"x":{"value":"width"},"y":{"datum":38.08}}}
]},
{"data":{"name":"macd"},"layer":[
 {"data":{"values":[{}]},"mark":{"type":"rule","color":"#55d8ff","strokeWidth":1},"encoding":{"y":{"datum":0}}},
 {"data":{"values":[{}]},"mark":{"type":"rule","color":"#777777","strokeWidth":1},"encoding":{"y":{"datum":0.733}}},
 {"data":{"name":"sig"},"mark":{"type":"line","color":"#b09cff","strokeWidth":1.1,"interpolate":"monotone"},"encoding":{"x":{"field":"d","type":"ordinal","axis":null},"y":{"field":"v","type":"quantitative"}}},
 {"mark":{"type":"line","color":"#7fe0ff","strokeWidth":1.1,"interpolate":"monotone"},"encoding":{"x":{"field":"d","type":"ordinal","axis":null},"y":{"field":"v","type":"quantitative","scale":{"domain":[-1.6,0.733],"range":[336,301],"nice":false,"zero":false},"axis":{"orient":"right","title":null,"tickCount":100,"values":[0.5,0,-0.5,-1,-1.5],"labelExpr":"datum.value == -1 ? '-1' : ''","labelOverlap":false,"grid":true,"gridColor":"#e6e6e6","domain":false,"tickSize":3,"tickColor":"#999999","labelFontSize":6,"labelColor":"#888888","labelPadding":1}}}},
 {"data":{"values":[{}]},"mark":{"type":"rect","fill":"#ffffff","stroke":"#7fe0ff","strokeWidth":1},"encoding":{"x":{"datum":"2020-06-16","type":"ordinal","axis":null},"x2":{"datum":"2020-08-18"},"y":{"datum":-0.27},"y2":{"datum":-1.53}}},
 {"data":{"values":[{}]},"mark":{"type":"text","text":"MACD negative below signal line","color":"#22c0f0","fontWeight":"bold","fontSize":8.3,"align":"center","baseline":"middle"},"encoding":{"x":{"datum":"2020-07-17","type":"ordinal","axis":null},"y":{"datum":-0.9}}},
 {"data":{"values":[{}]},"mark":{"type":"rect","fill":"#7744ff","x2Offset":22,"yOffset":-5.8,"y2Offset":0.2},"encoding":{"x":{"value":"width"},"x2":{"value":"width"},"y":{"datum":-0.12},"y2":{"datum":-0.12}}},
 {"data":{"values":[{}]},"mark":{"type":"text","text":"-0.12","color":"#ffffff","fontSize":5.5,"align":"center","baseline":"middle","dx":11,"dy":-2.8},"encoding":{"x":{"value":"width"},"y":{"datum":-0.12}}},
 {"data":{"values":[{}]},"mark":{"type":"rect","fill":"#00ccff","x2Offset":22,"yOffset":-2,"y2Offset":4},"encoding":{"x":{"value":"width"},"x2":{"value":"width"},"y":{"datum":-0.27},"y2":{"datum":-0.27}}},
 {"data":{"values":[{}]},"mark":{"type":"text","text":"-0.27","color":"#003344","fontSize":5.5,"align":"center","baseline":"middle","dx":11,"dy":1},"encoding":{"x":{"value":"width"},"y":{"datum":-0.27}}}
]},
{"data":{"values":[{"d":"2019-10-15"}]},"mark":{"type":"rule","opacity":0},"encoding":{"x":{"field":"d","type":"ordinal","axis":{"orient":"bottom","title":null,"values":["2019-10-15","2019-11-15","2019-12-17","2020-01-16","2020-02-14","2020-03-18","2020-04-15","2020-05-14","2020-06-15","2020-07-15","2020-08-14"],"labelExpr":"utcFormat(toDate(datum.value), '%b %y')","offset":8,"ticks":false,"tickSize":0,"domain":false,"grid":false,"labelPadding":1,"labelFontSize":8,"labelFontWeight":"bold","labelColor":"#333333","labelAngle":0,"labelOverlap":false}}}},
{"data":{"values":[{"d":"2019-10-01"}]},"mark":{"type":"rule","opacity":0},"encoding":{"x":{"field":"d","type":"ordinal","axis":{"orient":"bottom","title":null,"values":["2019-10-01","2019-11-01","2019-12-02","2020-01-01","2020-02-03","2020-03-02","2020-04-01","2020-05-01","2020-06-01","2020-07-01","2020-08-03"],"labels":false,"ticks":true,"tickSize":7.5,"tickColor":"#666666","tickWidth":1,"offset":8.7,"domain":false,"grid":false}}}}
]
}
